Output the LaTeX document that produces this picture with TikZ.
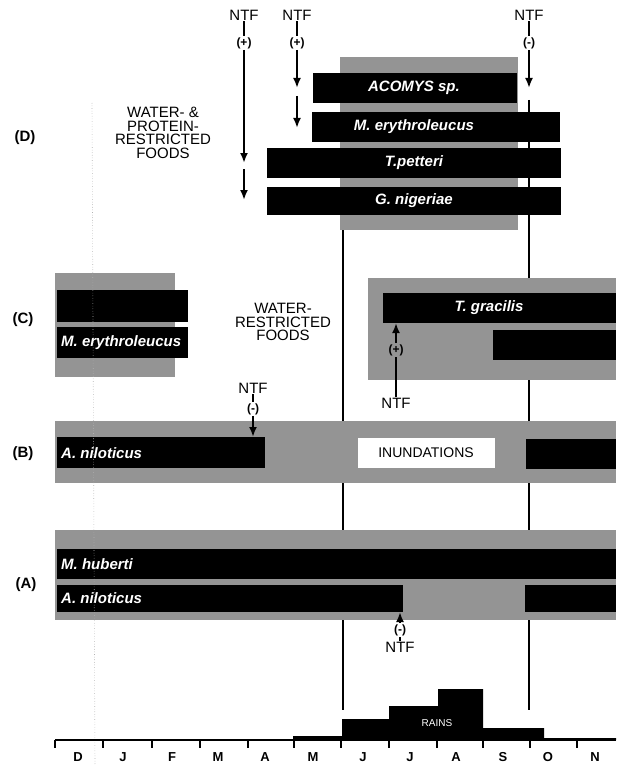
\documentclass[tikz,border=0pt]{standalone}
\usepackage{fontspec}
\setmainfont{Liberation Sans}
\usetikzlibrary{arrows.meta}

\begin{document}
\begin{tikzpicture}[
        x=1pt, y=-1pt,
        >={Latex[length=10pt,width=8pt]},
        % bands and bars
        band/.style={fill=black!42},
        bar/.style={fill=black},
        sp/.style={text=white, inner sep=0pt,
                   font=\fontsize{15}{15}\selectfont\bfseries\itshape},
        % texts
        panel/.style={font=\fontsize{15}{15}\selectfont\bfseries},
        ntf/.style={font=\fontsize{15}{15}\selectfont, inner sep=1pt},
        sign/.style={font=\fontsize{12}{12}\selectfont\bfseries, inner sep=1pt},
        note/.style={align=center, font=\fontsize{15}{13.5}\selectfont},
        month/.style={font=\fontsize{13}{13}\selectfont\bfseries},
        % lines
        arr/.style={->, line width=2pt},
        tie/.style={line width=2pt},
        vline/.style={line width=1.2pt},
    ]
    \useasboundingbox (0,0) rectangle (616,765);

    %% -- vertical guide lines (behind the bands) --
    \draw[vline] (343,100) -- (343,710);
    \draw[vline] (529,100) -- (529,710);

    %% -- (D) --
    \fill[band] (340,57) rectangle (518,230);
    \fill[bar] (313,73)  rectangle (517,103);
    \fill[bar] (312,112) rectangle (560,142);
    \fill[bar] (267,148) rectangle (561,178);
    \fill[bar] (267,187) rectangle (561,215);
    \node[sp] (acomys) at (414,88)  {ACOMYS sp.};
    \node[sp] (meryD)  at (414,127) {M. erythroleucus};
    \node[sp] (tpet)   at (414,163) {T.petteri};
    \node[sp] (gnig)   at (414,201) {G. nigeriae};
    \node[panel] (labD) at (25,138) {(D)};
    \node[note] (wpf) at (163,133) {WATER- \&\\PROTEIN-\\RESTRICTED\\FOODS};

    %% -- (C) --
    \fill[band] (55,273)  rectangle (175,377);
    \fill[bar]  (57,290)  rectangle (188,322);
    \fill[bar]  (57,327)  rectangle (188,358);
    \fill[band] (368,278) rectangle (616,380);
    \fill[bar]  (383,293) rectangle (616,323);
    \fill[bar]  (493,330) rectangle (616,360);
    \node[sp, anchor=west] (meryC) at (61,343) {M. erythroleucus};
    \node[sp] (tgrac) at (489,308) {T. gracilis};
    \node[panel] (labC) at (23,320) {(C)};
    \node[note] (wf) at (283,322) {WATER-\\RESTRICTED\\FOODS};

    %% -- (B) --
    \fill[band] (55,421) rectangle (616,483);
    \fill[bar]  (57,437) rectangle (265,468);
    \fill[bar]  (526,439) rectangle (616,469);
    \node[sp, anchor=west] (anilB) at (61,453) {A. niloticus};
    \node[fill=white, minimum width=137pt, minimum height=30pt,
          font=\fontsize{14}{14}\selectfont] (inund) at (426,453) {INUNDATIONS};
    \node[panel] (labB) at (23,454) {(B)};

    %% -- (A) --
    \fill[band] (55,530) rectangle (616,620);
    \fill[bar]  (57,549) rectangle (616,579);
    \fill[bar]  (57,585) rectangle (403,612);
    \fill[bar]  (525,585) rectangle (616,612);
    \node[sp, anchor=west] (mhub)  at (61,564) {M. huberti};
    \node[sp, anchor=west] (anilA) at (61,598) {A. niloticus};
    \node[panel] (labA) at (26,585) {(A)};

    %% -- NTF arrows --
    \coordinate (t1a) at (244,163);
    \coordinate (t1b) at (244,169);
    \coordinate (t1c) at (244,200);
    \node[ntf]  (ntf1) at (244,15) {NTF};
    \node[sign] (s1)   at (244,43) {(+)};
    \draw[tie] (ntf1) -- (s1);
    \draw[arr] (s1) -- (t1a);
    \draw[arr] (t1b) -- (t1c);

    \coordinate (t2a) at (297,88);
    \coordinate (t2b) at (297,96);
    \coordinate (t2c) at (297,128);
    \node[ntf]  (ntf2) at (297,15) {NTF};
    \node[sign] (s2)   at (297,43) {(+)};
    \draw[tie] (ntf2) -- (s2);
    \draw[arr] (s2) -- (t2a);
    \draw[arr] (t2b) -- (t2c);

    \coordinate (t3) at (529,88);
    \node[ntf]  (ntf3) at (529,15) {NTF};
    \node[sign] (s3)   at (529,43) {(-)};
    \draw[tie] (ntf3) -- (s3);
    \draw[arr] (s3) -- (t3);

    \coordinate (t4) at (253,437);
    \node[ntf]  (ntf4) at (253,388) {NTF};
    \node[sign] (s4)   at (253,409) {(-)};
    \draw[tie] (ntf4) -- (s4);
    \draw[arr] (s4) -- (t4);

    \coordinate (t5) at (396,323);
    \node[sign] (s5)   at (396,350) {(+)};
    \node[ntf]  (ntf5) at (396,403) {NTF};
    \draw[tie] (ntf5) -- (s5);
    \draw[arr] (s5) -- (t5);

    \coordinate (t6) at (400,612);
    \node[sign] (s6)   at (400,630) {(-)};
    \node[ntf]  (ntf6) at (400,647) {NTF};
    \draw[tie] (ntf6) -- (s6);
    \draw[arr] (s6) -- (t6);

    %% -- faint fold line --
    \draw[gray!60, dotted, line width=0.6pt] (92,103) -- (95,765);

    %% -- rains and months --
    \fill (293,740) -- (293,736) -- (342,736) -- (342,719) -- (389,719)
        -- (389,706) -- (438,706) -- (438,689) -- (483,689) -- (483,728)
        -- (544,728) -- (544,738) -- (616,738) -- (616,740) -- cycle;
    \node[text=white, font=\fontsize{10}{10}\selectfont] (rains) at (437,723) {RAINS};
    \draw[line width=2pt] (55,740) -- (616,740);
    \foreach \x in {55,103,152,200,248,294,341,389,437,483,530,577}
        \draw[line width=1.8pt] (\x,740) -- (\x,748);
    \foreach \m/\x [count=\i] in {D/78, J/123, F/172, M/218, A/265, M/313,
                                  J/363, J/410, A/456, S/503, O/548, N/595}
        \node[month] (mon\i) at (\x,757) {\m};
\end{tikzpicture}
\end{document}
